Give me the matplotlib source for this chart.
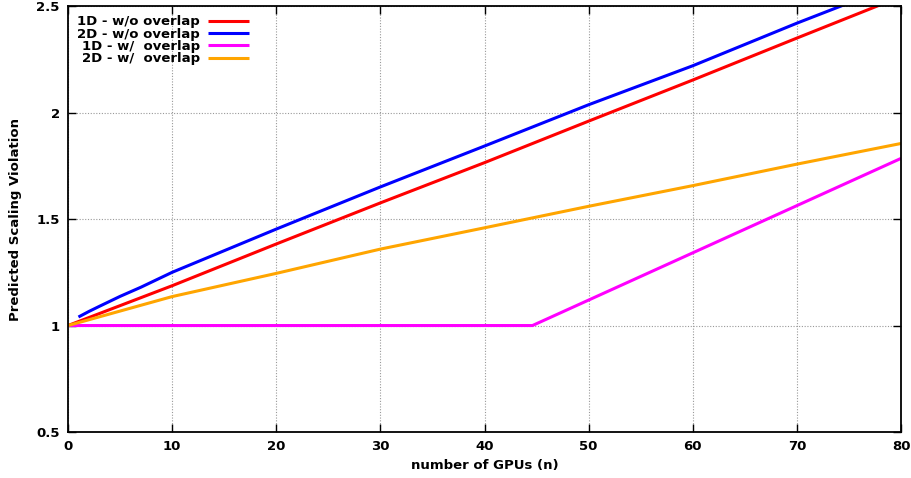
import matplotlib.pyplot as plt
from matplotlib.ticker import FuncFormatter

# predicted scaling violation vs number of GPUs
n_1d = [0, 10, 20, 30, 40, 50, 60, 70, 80]
v_1d_no = [1.0, 1.187, 1.383, 1.576, 1.765, 1.96, 2.153, 2.35, 2.545]

n_2d = [1, 2, 3, 5, 7, 10, 20, 30, 40, 50, 60, 70, 80]
v_2d_no = [1.04, 1.066, 1.09, 1.137, 1.18, 1.25, 1.453, 1.651, 1.843, 2.037, 2.22, 2.42, 2.61]

n_1d_ov = [0, 44.6, 80]
v_1d_ov = [1.0, 1.0, 1.785]

n_2d_ov = [0, 10, 20, 30, 40, 50, 60, 70, 80]
v_2d_ov = [1.0, 1.136, 1.245, 1.359, 1.459, 1.56, 1.657, 1.758, 1.855]

labels = ['1D - w/o overlap', '2D - w/o overlap', '1D - w/  overlap', '2D - w/  overlap']
colors = ['#ff0000', '#0000ff', '#ff00ff', '#ffa500']

plt.rcParams['font.family'] = 'DejaVu Sans'
plt.rcParams['font.weight'] = 'bold'
plt.rcParams['font.size'] = 9.5

fig = plt.figure(figsize=(9.12, 4.78), dpi=100)
ax = fig.add_axes([0.0746, 0.0962, 0.9134, 0.891])

series = [(n_1d, v_1d_no), (n_2d, v_2d_no), (n_1d_ov, v_1d_ov), (n_2d_ov, v_2d_ov)]
for (xs, ys), lab, c in zip(series, labels, colors):
    ax.plot(xs, ys, color=c, lw=2.2, label=lab, solid_capstyle='butt')

ax.set_xlim(0, 80)
ax.set_ylim(0.5, 2.5)
ax.set_xticks(range(0, 81, 10))
ax.set_yticks([0.5, 1, 1.5, 2, 2.5])
ax.yaxis.set_major_formatter(FuncFormatter(lambda v, p: '%g' % v))
ax.tick_params(direction='in', length=6, width=1, top=True, right=True, pad=6, labelsize=9.5)
ax.grid(True, color='#999999', linestyle=(0, (1, 1.5)), linewidth=0.8)
for s in ax.spines.values():
    s.set_linewidth(1.3)

ax.set_xlabel('number of GPUs (n)', fontweight='bold', labelpad=4)
ax.set_ylabel('Predicted Scaling Violation', fontweight='bold', labelpad=10)

ax.legend(loc='upper left', bbox_to_anchor=(0.0, 1.0), frameon=False, markerfirst=False,
          handlelength=3.1, handletextpad=0.6, labelspacing=-0.05, borderaxespad=0.3,
          prop={'weight': 'bold', 'size': 9.5})

fig.savefig('out.png', dpi=100)
